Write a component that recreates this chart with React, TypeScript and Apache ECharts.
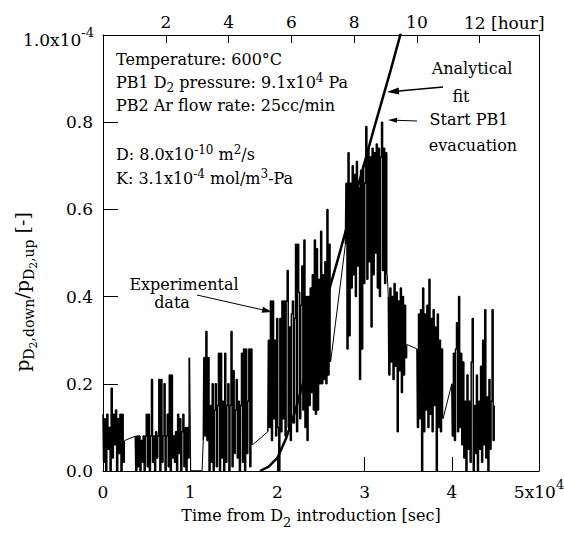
import React, { useEffect, useRef } from "react";
import * as echarts from "echarts";

// ---------- data (x in 10^4 s, y in 10^-4) ----------
const xTickValues = [0, 1, 2, 3, 4, 5];
const yTickValues = [0, 0.2, 0.4, 0.6, 0.8, 1.0];
const hourTicks = [2, 4, 6, 8, 10, 12];

// experimental data segments: [start, step] and sampled values
const segAStart = [0.0, 0.0125];
const segA = [0.13, 0.02, 0.12, 0.0, 0.13, 0.05, 0.1, 0.0, 0.19, 0.03, 0.13, 0.06, 0.14, 0.0, 0.12, 0.04, 0.13, 0.0, 0.13, 0.02, 0.07];

const segBStart = [0.37, 0.012];
const segB = [0.08, 0.0, 0.08, 0.01, 0.08, 0.0, 0.07, 0.02, 0.08, 0.0, 0.08, 0.13, 0.01, 0.13, 0.0, 0.08, 0.21, 0.02, 0.08, 0.0, 0.09, 0.03, 0.08, 0.21, 0.0, 0.21, 0.02, 0.08, 0.2, 0.0, 0.08, 0.13, 0.01, 0.22, 0.0, 0.22, 0.03, 0.08, 0.02, 0.09, 0.0, 0.13, 0.04, 0.12, 0.0, 0.09, 0.13, 0.01, 0.1, 0.0, 0.1, 0.03, 0.26];

const segZeroStart = [1.006, 0.13];
const segZero = [0.0, 0.0];

const segCStart = [1.15, 0.012];
const segC = [0.07, 0.26, 0.08, 0.32, 0.07, 0.26, 0.0, 0.15, 0.02, 0.2, 0.0, 0.14, 0.2, 0.01, 0.15, 0.27, 0.0, 0.27, 0.03, 0.16, 0.0, 0.27, 0.02, 0.15, 0.2, 0.0, 0.15, 0.32, 0.01, 0.23, 0.04, 0.14, 0.21, 0.03, 0.16, 0.0, 0.15, 0.27, 0.02, 0.28, 0.0, 0.28, 0.04, 0.16, 0.28, 0.01, 0.28, 0.06];

const segDStart = [1.89, 0.012];
const segD = [0.09, 0.3, 0.1, 0.39, 0.07, 0.39, 0.12, 0.3, 0.08, 0.35, 0.1, 0.0, 0.35, 0.09, 0.39, 0.12, 0.39, 0.08, 0.39, 0.46, 0.1, 0.33, 0.07, 0.36, 0.39, 0.11, 0.35, 0.52, 0.09, 0.52, 0.41, 0.12, 0.38, 0.47, 0.14, 0.53, 0.1, 0.4, 0.07, 0.4, 0.15, 0.42, 0.18, 0.45, 0.14, 0.53, 0.13, 0.51, 0.14, 0.44, 0.2, 0.55, 0.2, 0.45, 0.21, 0.48, 0.2, 0.6, 0.22, 0.52, 0.25];

const segEStart = [2.78, 0.012];
const segE = [0.52, 0.66, 0.28, 0.73, 0.31, 0.66, 0.42, 0.7, 0.45, 0.68, 0.4, 0.71, 0.47, 0.65, 0.21, 0.69, 0.28, 0.7, 0.43, 0.66, 0.79, 0.44, 0.74, 0.48, 0.72, 0.33, 0.74, 0.45, 0.73, 0.5, 0.75, 0.42, 0.74, 0.4, 0.72, 0.8, 0.46, 0.74, 0.43, 0.73, 0.45];

const segFStart = [3.272, 0.012];
const segF = [0.4, 0.22, 0.42, 0.25, 0.4, 0.21, 0.43, 0.24, 0.41, 0.09, 0.39, 0.23, 0.42, 0.18, 0.4, 0.22, 0.38, 0.26, 0.29];

const segGStart = [3.6, 0.012];
const segG = [0.28, 0.1, 0.36, 0.12, 0.37, 0.0, 0.42, 0.09, 0.36, 0.14, 0.38, 0.1, 0.44, 0.13, 0.35, 0.09, 0.37, 0.15, 0.33, 0.0, 0.36, 0.1, 0.3, 0.09, 0.28, 0.12];

const segHStart = [4.0, 0.012];
const segH = [0.2, 0.08, 0.27, 0.07, 0.28, 0.34, 0.09, 0.4, 0.1, 0.27, 0.06, 0.25, 0.03, 0.16, 0.0, 0.22, 0.05, 0.16, 0.02, 0.25, 0.35, 0.0, 0.15, 0.04, 0.22, 0.0, 0.16, 0.05, 0.24, 0.02, 0.3, 0.06, 0.37, 0.03, 0.17, 0.0, 0.21, 0.05, 0.16, 0.37, 0.07, 0.15];

// analytical fit
const fitX = [1.8, 1.9, 2.0, 2.1, 2.2, 2.3, 2.5, 2.7, 2.9, 3.1, 3.3, 3.45];
const fitY = [0.0, 0.01, 0.03, 0.075, 0.135, 0.205, 0.35, 0.49, 0.635, 0.78, 0.92, 1.03];

const FONT = "'DejaVu Serif', serif";
const FAM = '"DejaVu Serif"';

type Piece = { t: string; s: number; dy: number };

let ctx: CanvasRenderingContext2D | null = null;
function measure(text: string, size: number): number {
  if (!ctx) ctx = document.createElement("canvas").getContext("2d");
  if (!ctx) return text.length * size * 0.55;
  ctx.font = `${size}px ${FAM}`;
  return ctx.measureText(text).width;
}

function row(list: Piece[], x: number, baseline: number, align: "left" | "center" | "right"): any[] {
  const widths = list.map((p) => measure(p.t, p.s));
  const total = widths.reduce((a, b) => a + b, 0);
  let cx = align === "left" ? x : align === "center" ? x - total / 2 : x - total;
  const out: any[] = [];
  list.forEach((p, i) => {
    const lead = p.t.length - p.t.replace(/^\s+/, "").length;
    const leadW = lead > 0 ? measure(p.t.slice(0, lead), p.s) : 0;
    out.push({
      type: "text",
      x: cx + leadW,
      y: baseline + p.dy - 0.32 * p.s,
      silent: true,
      style: {
        text: p.t.trim(),
        fontSize: p.s,
        fontFamily: FONT,
        fill: "#000",
        align: "left",
        verticalAlign: "middle",
      },
    });
    cx += widths[i];
  });
  return out;
}

function arrow(x1: number, y1: number, x2: number, y2: number, w: number, hl: number, hw: number): any[] {
  const a = Math.atan2(y2 - y1, x2 - x1);
  const bx = x2 - hl * Math.cos(a);
  const by = y2 - hl * Math.sin(a);
  const px = (-Math.sin(a) * hw) / 2;
  const py = (Math.cos(a) * hw) / 2;
  return [
    { type: "line", silent: true, shape: { x1, y1, x2: bx, y2: by }, style: { stroke: "#000", lineWidth: w } },
    {
      type: "polygon",
      silent: true,
      shape: { points: [[x2, y2], [bx + px, by + py], [bx - px, by - py]] },
      style: { fill: "#000" },
    },
  ];
}

function buildSeg(start: number[], vals: number[]): number[][] {
  return vals.map((v, i) => [start[0] + i * start[1], v]);
}

export default function App() {
  const ref = useRef<HTMLDivElement>(null);
  useEffect(() => {
    document.body.style.margin = "0";
    if (!ref.current) return;
    const chart = echarts.init(ref.current, null, { renderer: "svg" });

    const segs = [
      buildSeg(segAStart, segA),
      buildSeg(segBStart, segB),
      buildSeg(segZeroStart, segZero),
      buildSeg(segCStart, segC),
      buildSeg(segDStart, segD),
      buildSeg(segEStart, segE),
      buildSeg(segFStart, segF),
      buildSeg(segGStart, segG),
      buildSeg(segHStart, segH),
    ];
    const fitData = fitX.map((x, i) => [x, fitY[i]]);

    const blockSeries = segs.map((d) => ({
      type: "line",
      xAxisIndex: 0,
      yAxisIndex: 0,
      data: d,
      step: "middle",
      symbol: "none",
      showSymbol: false,
      lineStyle: { color: "#000", width: 1.5 },
      z: 2,
    }));
    const connectorSeries = segs.slice(0, -1).map((d, i) => ({
      type: "line",
      xAxisIndex: 0,
      yAxisIndex: 0,
      data: [d[d.length - 1], segs[i + 1][0]],
      symbol: "none",
      showSymbol: false,
      lineStyle: { color: "#000", width: 1 },
      z: 2,
    }));

    const labelStyle = { fontSize: 17, fontFamily: FONT, color: "#000" };
    const axisLineStyle = { show: true, onZero: false, lineStyle: { color: "#000", width: 1 } };

    const graphic: any[] = [
      ...row([{ t: "1.0x10", s: 17, dy: 0 }, { t: "-4", s: 13, dy: -8 }], 94, 45, "right"),
      ...row([{ t: "5x10", s: 17, dy: 0 }, { t: "4", s: 13, dy: -8 }], 539, 497, "center"),
      ...row([{ t: "12 [hour]", s: 17, dy: 0 }], 464, 28, "left"),
      ...row(
        [
          { t: "Time from D", s: 16, dy: 0 },
          { t: "2", s: 13, dy: 6 },
          { t: " introduction [sec]", s: 16, dy: 0 },
        ],
        311,
        521,
        "center"
      ),
      {
        type: "group",
        x: 28,
        y: 292,
        rotation: Math.PI / 2,
        silent: true,
        children: row(
          [
            { t: "p", s: 19, dy: 0 },
            { t: "D", s: 14, dy: 5 },
            { t: "2", s: 11, dy: 9 },
            { t: ",down", s: 14, dy: 5 },
            { t: "/p", s: 19, dy: 0 },
            { t: "D", s: 14, dy: 5 },
            { t: "2", s: 11, dy: 9 },
            { t: ",up", s: 14, dy: 5 },
            { t: " [-]", s: 19, dy: 0 },
          ],
          0,
          0,
          "center"
        ),
      },
      ...row([{ t: "Temperature: 600°C", s: 16, dy: 0 }], 116, 65, "left"),
      ...row(
        [
          { t: "PB1 D", s: 16, dy: 0 },
          { t: "2", s: 12, dy: 4 },
          { t: " pressure: 9.1x10", s: 16, dy: 0 },
          { t: "4", s: 12, dy: -6 },
          { t: " Pa", s: 16, dy: 0 },
        ],
        116,
        88,
        "left"
      ),
      ...row([{ t: "PB2 Ar flow rate: 25cc/min", s: 16, dy: 0 }], 116, 111, "left"),
      ...row(
        [
          { t: "D: 8.0x10", s: 16, dy: 0 },
          { t: "-10", s: 12, dy: -6 },
          { t: " m", s: 16, dy: 0 },
          { t: "2", s: 12, dy: -6 },
          { t: "/s", s: 16, dy: 0 },
        ],
        116,
        160,
        "left"
      ),
      ...row(
        [
          { t: "K: 3.1x10", s: 16, dy: 0 },
          { t: "-4", s: 12, dy: -6 },
          { t: " mol/m", s: 16, dy: 0 },
          { t: "3", s: 12, dy: -6 },
          { t: "-Pa", s: 16, dy: 0 },
        ],
        116,
        184,
        "left"
      ),
      ...row([{ t: "Analytical", s: 16, dy: 0 }], 472, 74, "center"),
      ...row([{ t: "fit", s: 16, dy: 0 }], 461, 102, "center"),
      ...row([{ t: "Start PB1", s: 16, dy: 0 }], 469, 125, "center"),
      ...row([{ t: "evacuation", s: 16, dy: 0 }], 473, 151, "center"),
      ...row([{ t: "Experimental", s: 16, dy: 0 }], 184, 290, "center"),
      ...row([{ t: "data", s: 16, dy: 0 }], 172, 308, "center"),
      ...arrow(443, 87, 387, 92, 1.5, 12, 7),
      ...arrow(417, 121, 388, 120, 1, 9, 5),
      ...arrow(197, 295, 272, 312, 1, 10, 6),
    ];

    const option: any = {
      animation: false,
      grid: { left: 103, top: 35, width: 436, height: 436, containLabel: false },
      xAxis: [
        {
          type: "value",
          position: "bottom",
          min: xTickValues[0],
          max: xTickValues[xTickValues.length - 1],
          interval: 1,
          axisLine: axisLineStyle,
          axisTick: { show: true, inside: true, length: 14, lineStyle: { color: "#000" } },
          axisLabel: {
            ...labelStyle,
            margin: 12,
            formatter: (v: number) => (v >= 5 ? "" : String(v)),
          },
          splitLine: { show: false },
        },
        {
          type: "value",
          position: "top",
          min: 0,
          max: 50000 / 3600,
          interval: 2,
          axisLine: axisLineStyle,
          axisTick: { show: true, inside: true, length: 8, lineStyle: { color: "#000" } },
          axisLabel: {
            ...labelStyle,
            margin: 5,
            formatter: (v: number) => (hourTicks.indexOf(v) >= 0 && v < 12 ? String(v) : ""),
          },
          splitLine: { show: false },
        },
      ],
      yAxis: [
        {
          type: "value",
          position: "left",
          min: yTickValues[0],
          max: yTickValues[yTickValues.length - 1],
          interval: 0.2,
          axisLine: axisLineStyle,
          axisTick: { show: true, inside: true, length: 15, lineStyle: { color: "#000" } },
          axisLabel: {
            ...labelStyle,
            margin: 10,
            formatter: (v: number) => (v >= 0.99 ? "" : v.toFixed(1)),
          },
          splitLine: { show: false },
        },
        {
          type: "value",
          position: "right",
          min: 0,
          max: 1,
          axisLine: axisLineStyle,
          axisTick: { show: false },
          axisLabel: { show: false },
          splitLine: { show: false },
        },
      ],
      series: [
        ...blockSeries,
        ...connectorSeries,
        {
          type: "line",
          xAxisIndex: 0,
          yAxisIndex: 0,
          data: fitData,
          symbol: "none",
          showSymbol: false,
          lineStyle: { color: "#000", width: 2.5 },
          z: 3,
        },
      ],
      graphic,
    };
    chart.setOption(option);
    return () => chart.dispose();
  }, []);
  return <div ref={ref} style={{ width: 564, height: 534 }} />;
}
